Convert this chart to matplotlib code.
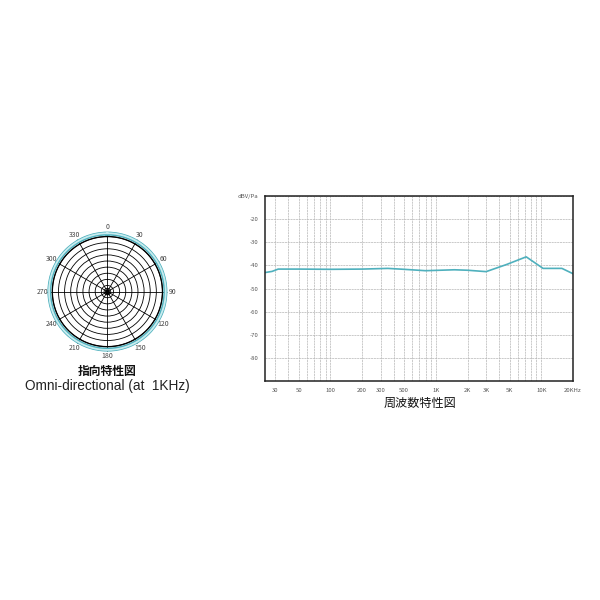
import numpy as np
import matplotlib
matplotlib.use('Agg')
import matplotlib.pyplot as plt

plt.rcParams['font.family'] = ['Noto Sans CJK JP', 'DejaVu Sans']

# ---- polar pattern (omni, 1kHz) ----
polar_angles_deg = [0, 30, 60, 90, 120, 150, 180, 210, 240, 270, 300, 330, 360]
polar_level = [1.06, 1.06, 1.06, 1.06, 1.06, 1.06, 1.06, 1.06, 1.06, 1.06, 1.06, 1.06, 1.06]
polar_labels = ['0', '30', '60', '90', '120', '150', '180', '210', '240', '270', '300', '330']

# ---- frequency response ----
freq = [24, 28, 32, 50, 100, 200, 350, 500, 800, 1500, 2000, 3000, 4700, 7200, 10400, 15700, 20000]
level = [-43.1, -42.6, -41.6, -41.6, -41.7, -41.6, -41.3, -41.7, -42.3, -41.9, -42.1, -42.7,
         -39.6, -36.3, -41.3, -41.3, -43.6]
x_ticks = [30, 50, 100, 200, 300, 500, 1000, 2000, 3000, 5000, 10000, 20000]
x_labels = ['30', '50', '100', '200', '300', '500', '1K', '2K', '3K', '5K', '10K', '20KHz']
y_ticks = [-80, -70, -60, -50, -40, -30, -20, -10]
y_labels = ['-80', '-70', '-60', '-50', '-40', '-30', '-20', 'dBV/Pa']

teal = '#4fb0bd'

fig = plt.figure(figsize=(6, 6), dpi=100)

# ================== POLAR ==================
ax1 = fig.add_axes([0.079, 0.414, 0.2, 0.2], projection='polar')
ax1.set_theta_zero_location('N')
ax1.set_theta_direction(-1)
ax1.set_ylim(0, 1.09)
ax1.set_rgrids([0.03, 0.06] + list(np.linspace(1 / 9, 1, 9)), labels=[])
ax1.set_thetagrids(polar_angles_deg[:-1], labels=polar_labels, fontsize=5, color='#444444')
ax1.tick_params(axis='x', pad=-7)
ax1.grid(True, color='black', linewidth=0.6, linestyle='-')
ax1.spines['polar'].set_visible(False)
th = np.radians(np.array(polar_angles_deg, dtype=float))
th_f = np.linspace(0, 2 * np.pi, 361)
r_f = np.interp(th_f, th, polar_level)
ax1.plot(th_f, r_f, color=teal, linewidth=3.4)
ax1.plot(th_f, r_f, color='#c8ecef', linewidth=1.3)
ax1.plot(th_f, np.full_like(th_f, 1.0), color='black', linewidth=0.9)
ax1.plot([0], [0], 'o', color='black', markersize=2.5)

fig.text(0.179, 0.381, '指向特性図', ha='center', va='center', fontsize=8.5,
         color='#111111', fontweight='bold')
fig.text(0.179, 0.357, 'Omni-directional (at  1KHz)', ha='center', va='center',
         fontsize=9.8, color='#222222', family=['Liberation Sans', 'DejaVu Sans'])

# ================== FREQUENCY RESPONSE ==================
ax2 = fig.add_axes([0.4417, 0.365, 0.5133, 0.3083])
ax2.set_xscale('log')
ax2.plot(freq, level, color=teal, linewidth=1.2)

minor = [m * d for d in [10, 100, 1000, 10000] for m in range(2, 10) if 24 < m * d < 20000]
ax2.set_xticks(minor, minor=True)
ax2.set_xticks(x_ticks)
ax2.set_xticklabels(x_labels)
ax2.set_yticks(y_ticks)
ax2.set_yticklabels(y_labels)
ax2.set_xlim(24, 20000)
ax2.set_ylim(-90, -10)
ax2.tick_params(which='both', length=0, labelsize=4.3, labelcolor='#555555', pad=5)
ax2.grid(True, which='both', axis='x', color='#b5b5b5', linewidth=0.5, linestyle=(0, (3, 1)))
ax2.grid(True, which='major', axis='y', color='#b5b5b5', linewidth=0.5, linestyle=(0, (3, 1)))
for s in ax2.spines.values():
    s.set_linewidth(1.1)
    s.set_color('#222222')

fig.text(0.7, 0.327, '周波数特性図', ha='center', va='center', fontsize=8.7, color='#111111')

fig.savefig('out.png', dpi=100, facecolor='white')
